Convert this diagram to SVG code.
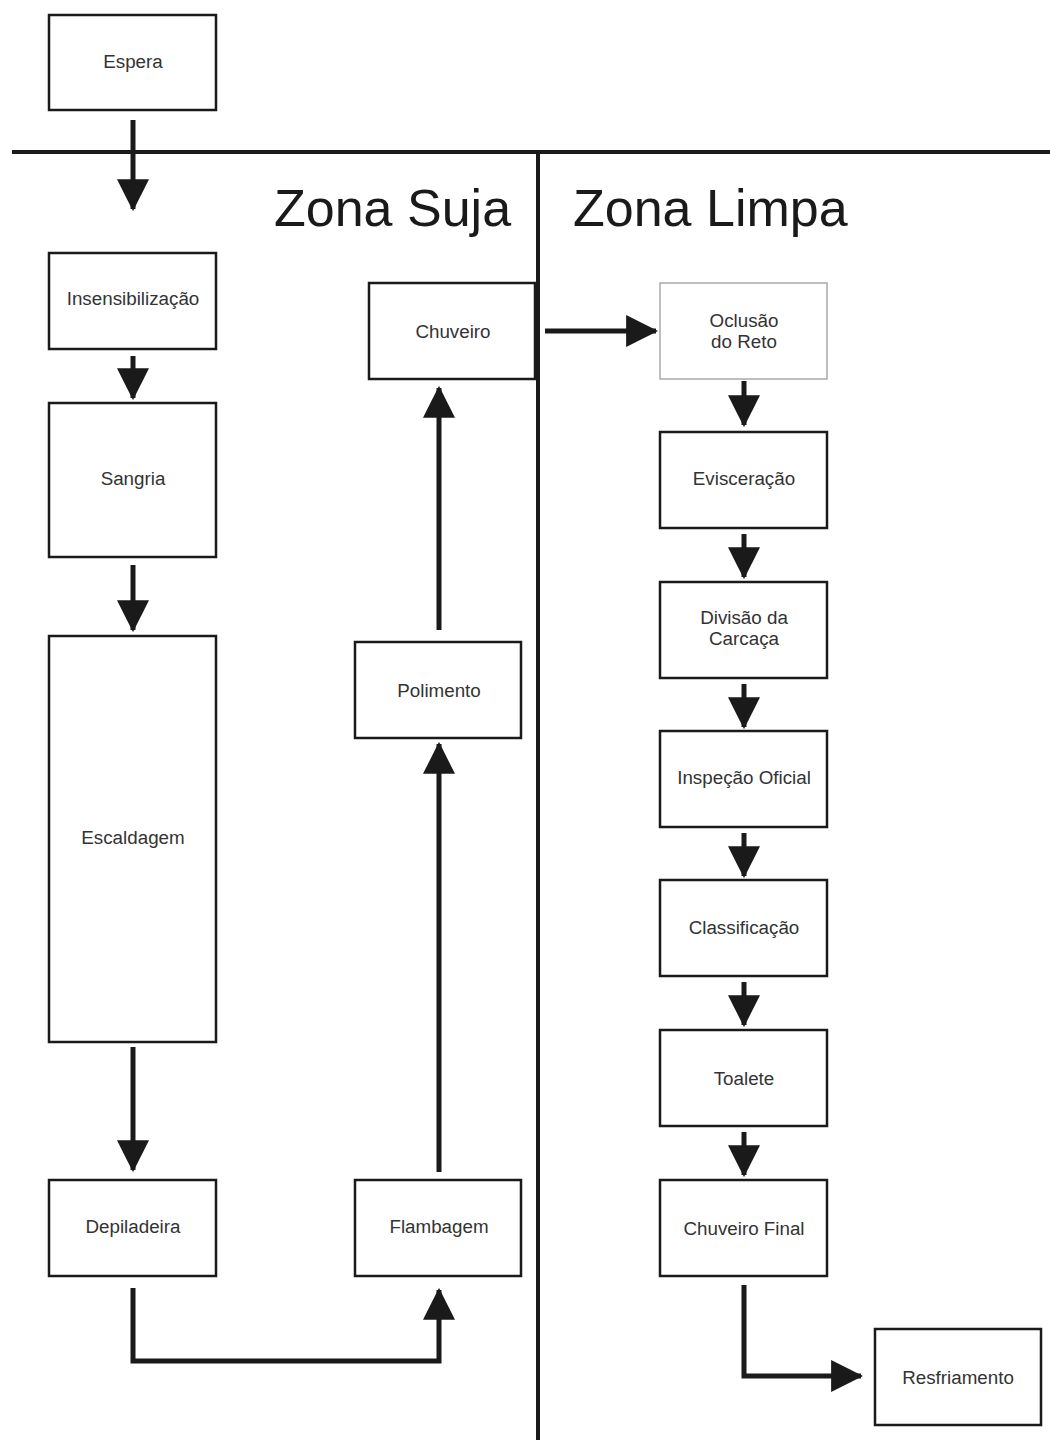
<svg xmlns="http://www.w3.org/2000/svg" width="1050" height="1440" viewBox="0 0 1050 1440">
<style>
.box{fill:#fff;stroke:#1a1a1a;stroke-width:2.5}
.box2{fill:#fff;stroke:#aaa;stroke-width:1.5}
.t{font-family:"Liberation Sans",Arial,sans-serif;font-size:18.8px;fill:#333;text-anchor:middle}
.z{font-family:"Liberation Sans",Arial,sans-serif;font-size:52px;fill:#1a1a1a}
.c{fill:none;stroke:#1a1a1a;stroke-width:5;marker-end:url(#ah)}
.div{stroke:#1a1a1a;stroke-width:4}
</style>
<defs>
<marker id="ah" markerUnits="userSpaceOnUse" markerWidth="32" markerHeight="32" viewBox="0 0 30 30" refX="28" refY="15" orient="auto">
<path d="M0,0 L30,15 L0,30 Z" fill="#1a1a1a"/>
</marker>
</defs>
<rect width="1050" height="1440" fill="#fff"/>
<g id="dividers">
<line class="div" x1="12" y1="152" x2="1050" y2="152"/>
<line class="div" x1="538" y1="152" x2="538" y2="1440"/>
</g>
<text class="z" x="274" y="226">Zona Suja</text>
<text class="z" x="573" y="226">Zona Limpa</text>
<g id="connectors">
<path class="c" d="M133,120 V209"/>
<path class="c" d="M133,356 V398"/>
<path class="c" d="M133,565 V630"/>
<path class="c" d="M133,1047 V1170"/>
<path class="c" d="M133,1288 V1361 H439 V1290"/>
<path class="c" d="M439,1172 V744"/>
<path class="c" d="M439,630 V388"/>
<path class="c" d="M545,331 H656"/>
<path class="c" d="M744,381 V425"/>
<path class="c" d="M744,534 V577"/>
<path class="c" d="M744,684 V727"/>
<path class="c" d="M744,833 V876"/>
<path class="c" d="M744,982 V1025"/>
<path class="c" d="M744,1132 V1175"/>
<path class="c" d="M744,1285 V1376 H861"/>
</g>
<g id="espera"><rect class="box" x="49" y="15" width="167" height="95"/><text class="t" x="133" y="68">Espera</text></g>
<g id="insensibilizacao"><rect class="box" x="49" y="253" width="167" height="96"/><text class="t" x="133" y="305">Insensibilização</text></g>
<g id="sangria"><rect class="box" x="49" y="403" width="167" height="154"/><text class="t" x="133" y="485">Sangria</text></g>
<g id="escaldagem"><rect class="box" x="49" y="636" width="167" height="406"/><text class="t" x="133" y="844">Escaldagem</text></g>
<g id="depiladeira"><rect class="box" x="49" y="1180" width="167" height="96"/><text class="t" x="133" y="1233">Depiladeira</text></g>
<g id="flambagem"><rect class="box" x="355" y="1180" width="166" height="96"/><text class="t" x="439" y="1233">Flambagem</text></g>
<g id="polimento"><rect class="box" x="355" y="642" width="166" height="96"/><text class="t" x="439" y="697">Polimento</text></g>
<g id="chuveiro"><rect class="box" x="369" y="283" width="166" height="96"/><text class="t" x="453" y="338">Chuveiro</text></g>
<g id="oclusao"><rect class="box2" x="660" y="283" width="167" height="96"/><text class="t" x="744" y="327">Oclusão</text><text class="t" x="744" y="348">do Reto</text></g>
<g id="evisceracao"><rect class="box" x="660" y="432" width="167" height="96"/><text class="t" x="744" y="485">Evisceração</text></g>
<g id="divisao"><rect class="box" x="660" y="582" width="167" height="96"/><text class="t" x="744" y="624">Divisão da</text><text class="t" x="744" y="645">Carcaça</text></g>
<g id="inspecao"><rect class="box" x="660" y="731" width="167" height="96"/><text class="t" x="744" y="784">Inspeção Oficial</text></g>
<g id="classificacao"><rect class="box" x="660" y="880" width="167" height="96"/><text class="t" x="744" y="934">Classificação</text></g>
<g id="toalete"><rect class="box" x="660" y="1030" width="167" height="96"/><text class="t" x="744" y="1085">Toalete</text></g>
<g id="chuveiro-final"><rect class="box" x="660" y="1180" width="167" height="96"/><text class="t" x="744" y="1235">Chuveiro Final</text></g>
<g id="resfriamento"><rect class="box" x="875" y="1329" width="166" height="96"/><text class="t" x="958" y="1384">Resfriamento</text></g>
</svg>
